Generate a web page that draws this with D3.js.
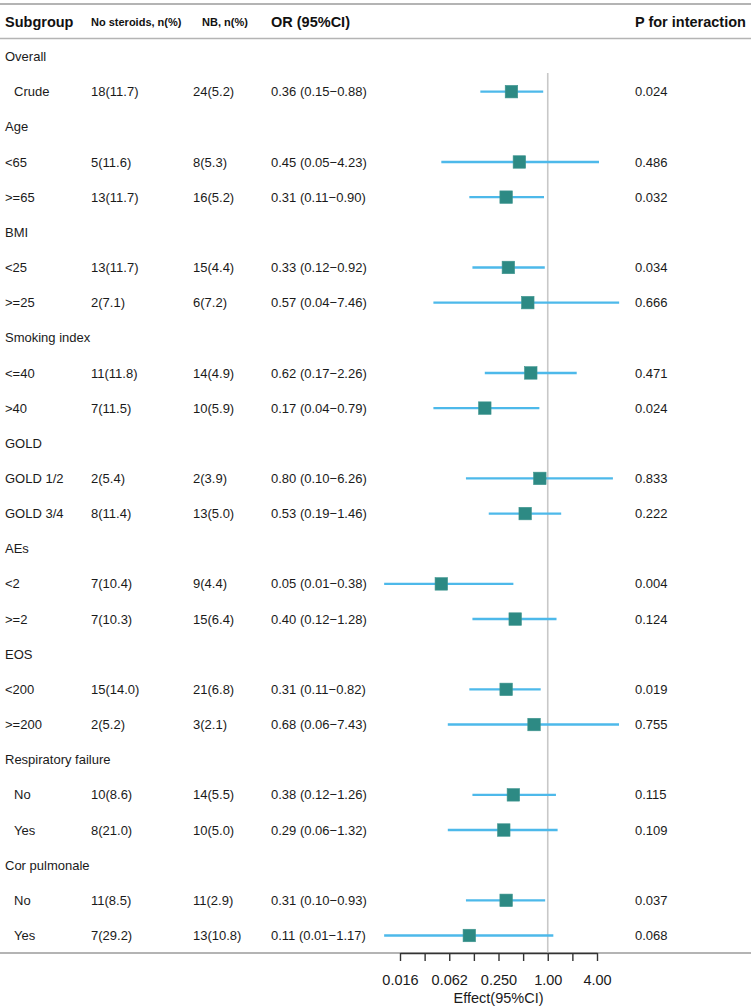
<!DOCTYPE html>
<html>
<head>
<meta charset="utf-8">
<script src="https://cdn.jsdelivr.net/npm/d3@7"></script>
<style>
  body { margin: 0; background: #fff; }
  svg { display: block; font-family: "Liberation Sans", Arial, sans-serif; }
</style>
</head>
<body>
<svg id="forest"></svg>
<script>
'use strict'

var WIDTH = 751,
	HEIGHT = 1008;

// rows of the table, top to bottom
var rowLabels = ["Overall", "Crude", "Age", "<65", ">=65", "BMI", "<25", ">=25",
	"Smoking index", "<=40", ">40", "GOLD", "GOLD 1/2", "GOLD 3/4", "AEs", "<2", ">=2",
	"EOS", "<200", ">=200", "Respiratory failure", "No", "Yes", "Cor pulmonale", "No", "Yes"];
var rowIndent = [0, 1, 0, 0, 0, 0, 0, 0, 0, 0, 0, 0, 0, 0, 0, 0, 0, 0, 0, 0, 0, 1, 1, 0, 1, 1];

var noSteroids = [null, "18(11.7)", null, "5(11.6)", "13(11.7)", null, "13(11.7)", "2(7.1)",
	null, "11(11.8)", "7(11.5)", null, "2(5.4)", "8(11.4)", null, "7(10.4)", "7(10.3)",
	null, "15(14.0)", "2(5.2)", null, "10(8.6)", "8(21.0)", null, "11(8.5)", "7(29.2)"];
var nbGroup = [null, "24(5.2)", null, "8(5.3)", "16(5.2)", null, "15(4.4)", "6(7.2)",
	null, "14(4.9)", "10(5.9)", null, "2(3.9)", "13(5.0)", null, "9(4.4)", "15(6.4)",
	null, "21(6.8)", "3(2.1)", null, "14(5.5)", "10(5.0)", null, "11(2.9)", "13(10.8)"];
var orValue = [null, 0.36, null, 0.45, 0.31, null, 0.33, 0.57, null, 0.62, 0.17, null, 0.80, 0.53,
	null, 0.05, 0.40, null, 0.31, 0.68, null, 0.38, 0.29, null, 0.31, 0.11];
var ciLow = [null, 0.15, null, 0.05, 0.11, null, 0.12, 0.04, null, 0.17, 0.04, null, 0.10, 0.19,
	null, 0.01, 0.12, null, 0.11, 0.06, null, 0.12, 0.06, null, 0.10, 0.01];
var ciHigh = [null, 0.88, null, 4.23, 0.90, null, 0.92, 7.46, null, 2.26, 0.79, null, 6.26, 1.46,
	null, 0.38, 1.28, null, 0.82, 7.43, null, 1.26, 1.32, null, 0.93, 1.17];
var pInteraction = [null, "0.024", null, "0.486", "0.032", null, "0.034", "0.666", null, "0.471", "0.024",
	null, "0.833", "0.222", null, "0.004", "0.124", null, "0.019", "0.755", null, "0.115", "0.109",
	null, "0.037", "0.068"];

// axis ticks (log2)
var tickValues = [1 / 64, 1 / 32, 1 / 16, 1 / 8, 1 / 4, 1 / 2, 1, 2, 4];
var tickLabels = ["0.016", "", "0.062", "", "0.250", "", "1.00", "", "4.00"];

var headers = [
	{ text: "Subgroup", x: 5, size: 14.5 },
	{ text: "No steroids, n(%)", x: 91, size: 11 },
	{ text: "NB, n(%)", x: 202, size: 11 },
	{ text: "OR (95%CI)", x: 271, size: 14.5 },
	{ text: "P for interaction", x: 635, size: 14.5 }
];

var svg = d3.select("#forest")
	.attr('width', WIDTH)
	.attr('height', HEIGHT);

var rows = rowLabels.map(function (d, i) {
	return {
		label: d, indent: rowIndent[i], ns: noSteroids[i], nb: nbGroup[i],
		or: orValue[i], lo: ciLow[i], hi: ciHigh[i], p: pInteraction[i]
	};
});

var y = d3.scalePoint()
	.domain(d3.range(rows.length))
	.range([56.5, 935.5]);

var x = d3.scaleLog()
	.base(2)
	.domain([1 / 64, 4])
	.range([400, 597]);

var lineGrey = "#b4b4b4",
	ciColor = "#4db9ea",
	boxColor = "#2d8a84",
	textColor = "#1a1a1a";

// horizontal rules
[{ y: 4, w: 2.2 }, { y: 38.5, w: 1.6 }, { y: 953, w: 2 }].forEach(function (r) {
	svg.append('line')
		.attr('x1', 0).attr('x2', WIDTH)
		.attr('y1', r.y).attr('y2', r.y)
		.style('stroke', lineGrey)
		.style('stroke-width', r.w);
});

// header
svg.selectAll('.head')
	.data(headers)
	.enter()
	.append('text')
	.attr('x', function (d) { return d.x; })
	.attr('y', 22)
	.attr('dy', '0.35em')
	.style('font-size', function (d) { return d.size + 'px'; })
	.style('font-weight', 'bold')
	.style('fill', '#111')
	.text(function (d) { return d.text; });

// reference line at 1
svg.append('line')
	.attr('x1', x(1)).attr('x2', x(1))
	.attr('y1', 73).attr('y2', 953)
	.style('stroke', '#c8c8c8')
	.style('stroke-width', 1.6);

var row = svg.selectAll('.row')
	.data(rows)
	.enter()
	.append('g')
	.attr('transform', function (d, i) { return 'translate(0,' + y(i) + ')'; });

function cell(sel, xpos, fn) {
	sel.append('text')
		.attr('x', xpos)
		.attr('dy', '0.35em')
		.style('font-size', '13px')
		.style('fill', textColor)
		.text(fn);
}

cell(row, 0, function (d) { return d.label; });
row.select('text').attr('x', function (d) { return d.indent ? 14 : 5; });
cell(row, 91, function (d) { return d.ns || ''; });
cell(row, 193, function (d) { return d.nb || ''; });
cell(row, 271, function (d) {
	var f = d3.format('.2f');
	return d.or == null ? '' : f(d.or) + ' (' + f(d.lo) + '\u2212' + f(d.hi) + ')';
});
cell(row, 635, function (d) { return d.p || ''; });

var est = row.filter(function (d) { return d.or != null; });

est.append('line')
	.attr('x1', function (d) { return x(d.lo); })
	.attr('x2', function (d) { return x(d.hi); })
	.style('stroke', ciColor)
	.style('stroke-width', 2.4);

var BOX = 12.5;
est.append('rect')
	.attr('x', function (d) { return x(d.or) - BOX / 2; })
	.attr('y', -BOX / 2)
	.attr('width', BOX)
	.attr('height', BOX)
	.style('fill', boxColor)
	.style('stroke', '#3f958f')
	.style('stroke-width', 0.6);

// x axis
var axis = d3.axisBottom(x)
	.tickValues(tickValues)
	.tickFormat(function (d, i) { return tickLabels[i]; })
	.tickSize(8)
	.tickSizeOuter(0);

var ax = svg.append('g')
	.attr('transform', 'translate(0,953)')
	.call(axis);

ax.select('.domain').style('stroke', '#333').style('stroke-width', 1.6);
ax.selectAll('.tick line').style('stroke', '#333').style('stroke-width', 1.4);
ax.selectAll('.tick text')
	.attr('y', 27)
	.attr('dy', '0.35em')
	.style('font-family', '"Liberation Sans", Arial, sans-serif')
	.style('font-size', '14.5px')
	.style('fill', textColor);

svg.append('text')
	.attr('x', (x.range()[0] + x.range()[1]) / 2)
	.attr('y', 998)
	.attr('dy', '0.35em')
	.attr('text-anchor', 'middle')
	.style('font-size', '14.5px')
	.style('fill', textColor)
	.text('Effect(95%CI)');
</script>
</body>
</html>
